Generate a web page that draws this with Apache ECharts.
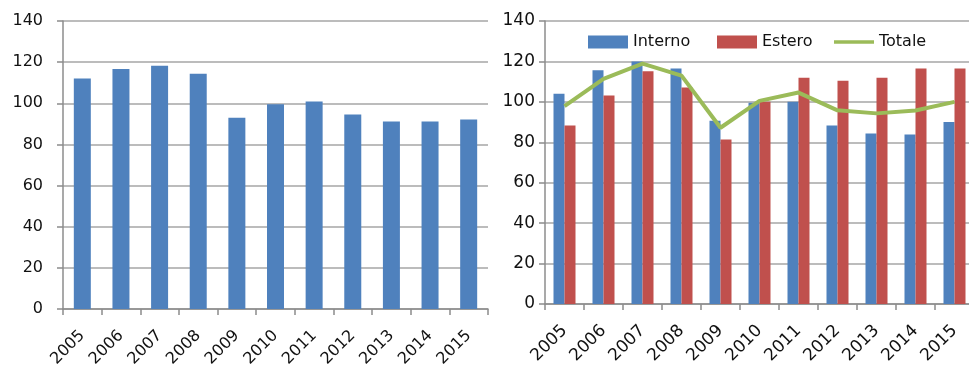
<!DOCTYPE html>
<html>
<head>
<meta charset="utf-8">
<script src="https://cdn.jsdelivr.net/npm/echarts@6/dist/echarts.min.js"></script>
<style>
html,body{margin:0;padding:0;background:#fff;overflow:hidden;}
#c{width:969px;height:366px;}
</style>
</head>
<body>
<div id="c"></div>
<script>
// ---- data ----
const years = ['2005','2006','2007','2008','2009','2010','2011','2012','2013','2014','2015'];
const leftValues = [112, 116.7, 118.2, 114.3, 93, 99.5, 100.9, 94.6, 91.2, 91.2, 92.1];
const interno = [104, 115.6, 120, 116.5, 90.6, 99.6, 100, 88.3, 84.4, 83.9, 90];
const estero = [88.3, 103.1, 115.2, 107.1, 81.4, 100, 111.9, 110.4, 111.9, 116.5, 116.5];
const totale = [97.9, 111.4, 118.9, 113, 87.2, 100.5, 104.6, 95.8, 94.3, 95.7, 100];
const yTicks = {min: 0, max: 140, interval: 20};

const BLUE = '#4F81BD', RED = '#C0504D', GREEN = '#9BBB59';
const GRID = '#A6A6A6', AXIS = '#8C8C8C', TXT = '#111';
const FONT = 'DejaVu Sans';

const chart = echarts.init(document.getElementById('c'), null, {renderer: 'canvas'});

function xAxis(gridIndex, fs, margin) {
  return {
    type: 'category', gridIndex, data: years,
    axisLine: {lineStyle: {color: AXIS, width: 1.5}},
    axisTick: {show: true, length: 6, lineStyle: {color: AXIS, width: 1.5}},
    axisLabel: {interval: 0, rotate: 45, margin, color: TXT, fontFamily: FONT, fontSize: fs}
  };
}
function yAxis(gridIndex, fs, margin) {
  return {
    type: 'value', gridIndex, min: yTicks.min, max: yTicks.max, interval: yTicks.interval,
    axisLine: {show: true, lineStyle: {color: AXIS, width: 1.5}},
    axisTick: {show: true, length: 6, lineStyle: {color: AXIS, width: 1.5}},
    splitLine: {show: true, lineStyle: {color: GRID, width: 1.5}},
    axisLabel: {margin, color: TXT, fontFamily: FONT, fontSize: fs}
  };
}
function legend(name, left, icon) {
  return {
    data: [{name, icon}], left, top: 29, itemWidth: 40, itemHeight: 13,
    textStyle: {color: TXT, fontFamily: FONT, fontSize: 16},
    selectedMode: false
  };
}

chart.setOption({
  animation: false,
  backgroundColor: '#fff',
  grid: [
    {left: 63, right: 481, top: 21, bottom: 57, containLabel: false, outerBoundsMode: 'none'},
    {left: 545, right: -5, top: 21, bottom: 62, containLabel: false, outerBoundsMode: 'none'}
  ],
  xAxis: [xAxis(0, 16, 24), xAxis(1, 17, 24)],
  yAxis: [yAxis(0, 16, 20), yAxis(1, 17, 10)],
  legend: [
    legend('Interno', 583, 'rect'),
    legend('Estero', 712, 'rect'),
    legend('Totale', 829, 'path://M0,0H44V4H0Z')
  ],
  series: [
    {name: 'Indice', type: 'bar', xAxisIndex: 0, yAxisIndex: 0, data: leftValues,
     barWidth: 17, itemStyle: {color: BLUE, borderRadius: 0}},
    {name: 'Interno', type: 'bar', xAxisIndex: 1, yAxisIndex: 1, data: interno,
     barWidth: 11, barGap: '0%', itemStyle: {color: BLUE, borderRadius: 0}},
    {name: 'Estero', type: 'bar', xAxisIndex: 1, yAxisIndex: 1, data: estero,
     barWidth: 11, barGap: '0%', itemStyle: {color: RED, borderRadius: 0}},
    {name: 'Totale', type: 'line', xAxisIndex: 1, yAxisIndex: 1, data: totale,
     symbol: 'none', lineStyle: {color: GREEN, width: 4}, itemStyle: {color: GREEN}, z: 5}
  ]
});
</script>
</body>
</html>
